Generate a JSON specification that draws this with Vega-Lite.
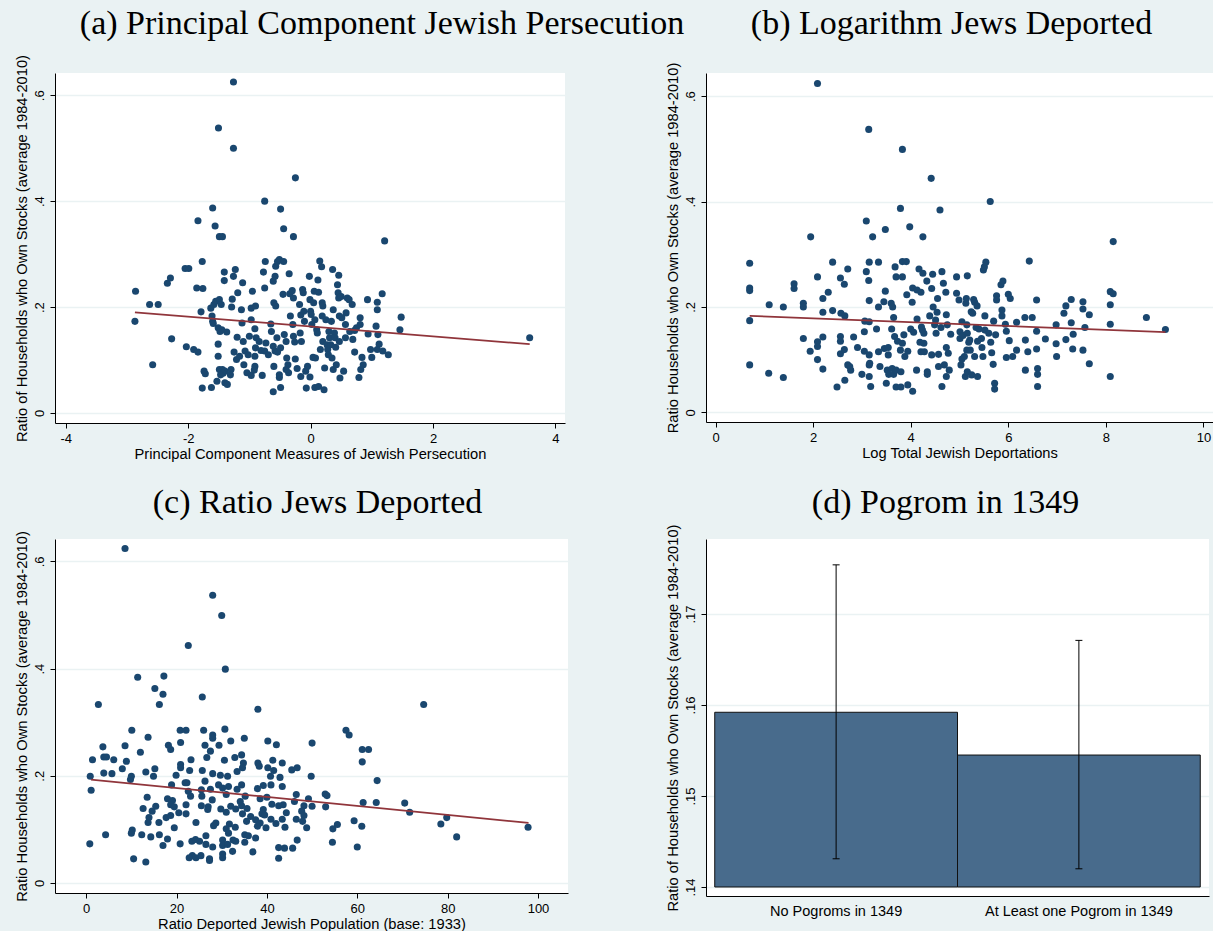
{
  "$schema": "https://vega.github.io/schema/vega-lite/v6.json",
  "background": "#eaf2f3",
  "padding": {"left": 14, "top": 6, "right": 0, "bottom": 0},
  "bounds": "flush",
  "columns": 2,
  "spacing": {"row": 116, "column": 138},
  "datasets": {
    "pca": [
      {"x":-1.26,"y":0.625},{"x":-1.505,"y":0.538},{"x":-1.26,"y":0.5},{"x":-0.248,"y":0.444},{"x":-0.75,"y":0.4},{"x":-0.49,"y":0.385},{"x":-1.6,"y":0.387},{"x":-1.84,"y":0.363},{"x":-1.56,"y":0.353},{"x":-0.44,"y":0.348},{"x":-1.49,"y":0.333},{"x":-1.44,"y":0.333},{"x":-0.28,"y":0.333},{"x":1.21,"y":0.325},
      {"x":-2.86,"y":0.23},{"x":-2.87,"y":0.173},{"x":-2.63,"y":0.205},{"x":-2.49,"y":0.205},{"x":-2.58,"y":0.091},{"x":-2.34,"y":0.245},{"x":-2.29,"y":0.255},{"x":-2.27,"y":0.14},{"x":-2.05,"y":0.273},{"x":-1.99,"y":0.273},{"x":-2.03,"y":0.125},{"x":-1.91,"y":0.12},{"x":-1.84,"y":0.115},{"x":-1.86,"y":0.236},{"x":-1.76,"y":0.235},{"x":-1.77,"y":0.286},{"x":-1.79,"y":0.191},{"x":-1.74,"y":0.079},{"x":-1.72,"y":0.074},{"x":-1.77,"y":0.047},
      {"x":-1.63,"y":0.198},{"x":-1.58,"y":0.205},{"x":-1.61,"y":0.183},{"x":-1.6,"y":0.173},{"x":-1.59,"y":0.169},{"x":-1.62,"y":0.048},{"x":-1.55,"y":0.211},{"x":-1.49,"y":0.214},{"x":-1.46,"y":0.205},{"x":-1.41,"y":0.266},{"x":-1.41,"y":0.25},{"x":-1.51,"y":0.161},{"x":-1.48,"y":0.154},{"x":-1.45,"y":0.157},{"x":-1.51,"y":0.13},{"x":-1.51,"y":0.107},{"x":-1.49,"y":0.082},{"x":-1.44,"y":0.082},{"x":-1.4,"y":0.079},{"x":-1.43,"y":0.075},{"x":-1.47,"y":0.072},{"x":-1.53,"y":0.06},{"x":-1.4,"y":0.057},{"x":-1.36,"y":0.054},{"x":-1.37,"y":0.153},{"x":-1.3,"y":0.082},{"x":-1.31,"y":0.072},
      {"x":-1.28,"y":0.215},{"x":-1.29,"y":0.2},{"x":-1.26,"y":0.258},{"x":-1.23,"y":0.271},{"x":-1.25,"y":0.115},{"x":-1.2,"y":0.143},{"x":-1.19,"y":0.227},{"x":-1.21,"y":0.101},{"x":-1.16,"y":0.107},{"x":-1.11,"y":0.246},{"x":-1.13,"y":0.195},{"x":-1.12,"y":0.17},{"x":-1.1,"y":0.135},{"x":-1.07,"y":0.117},{"x":-1.09,"y":0.091},{"x":-1.02,"y":0.11},{"x":-1.04,"y":0.076},{"x":-0.97,"y":0.071},{"x":-1.0,"y":0.145},{"x":-0.97,"y":0.176},{"x":-0.95,"y":0.23},{"x":-0.97,"y":0.198},{"x":-0.9,"y":0.202},{"x":-0.91,"y":0.159},{"x":-0.89,"y":0.142},{"x":-0.9,"y":0.123},{"x":-0.91,"y":0.107},{"x":-0.91,"y":0.088},{"x":-0.92,"y":0.081},{"x":-0.84,"y":0.135},{"x":-0.81,"y":0.118},{"x":-0.79,"y":0.071},
      {"x":-0.77,"y":0.266},{"x":-0.75,"y":0.236},{"x":-0.74,"y":0.286},{"x":-0.73,"y":0.132},{"x":-0.75,"y":0.117},{"x":-0.69,"y":0.11},{"x":-0.65,"y":0.168},{"x":-0.64,"y":0.154},{"x":-0.61,"y":0.249},{"x":-0.58,"y":0.258},{"x":-0.57,"y":0.277},{"x":-0.54,"y":0.286},{"x":-0.51,"y":0.29},{"x":-0.44,"y":0.286},{"x":-0.6,"y":0.208},{"x":-0.57,"y":0.202},{"x":-0.61,"y":0.126},{"x":-0.58,"y":0.117},{"x":-0.54,"y":0.115},{"x":-0.6,"y":0.088},{"x":-0.61,"y":0.04},{"x":-0.51,"y":0.067},{"x":-0.51,"y":0.072},{"x":-0.49,"y":0.048},{"x":-0.55,"y":0.142},{"x":-0.49,"y":0.123},{"x":-0.45,"y":0.224},{"x":-0.43,"y":0.148},{"x":-0.4,"y":0.135},{"x":-0.39,"y":0.104},{"x":-0.37,"y":0.091},{"x":-0.36,"y":0.076},{"x":-0.4,"y":0.082},
      {"x":-0.35,"y":0.263},{"x":-0.34,"y":0.225},{"x":-0.33,"y":0.183},{"x":-0.3,"y":0.231},{"x":-0.28,"y":0.217},{"x":-0.29,"y":0.167},{"x":-0.28,"y":0.145},{"x":-0.26,"y":0.134},{"x":-0.25,"y":0.102},{"x":-0.22,"y":0.084},{"x":-0.18,"y":0.205},{"x":-0.16,"y":0.185},{"x":-0.17,"y":0.151},{"x":-0.15,"y":0.135},{"x":-0.16,"y":0.069},{"x":-0.13,"y":0.233},{"x":-0.12,"y":0.227},{"x":-0.11,"y":0.192},{"x":-0.1,"y":0.173},{"x":-0.08,"y":0.079},{"x":-0.07,"y":0.047},{"x":-0.05,"y":0.088},{"x":-0.02,"y":0.258},{"x":-0.01,"y":0.214},{"x":0.0,"y":0.192},{"x":0.01,"y":0.186},{"x":0.02,"y":0.167},{"x":0.04,"y":0.105},{"x":-0.01,"y":0.068},
      {"x":0.05,"y":0.208},{"x":0.06,"y":0.23},{"x":0.07,"y":0.176},{"x":0.07,"y":0.048},{"x":0.08,"y":0.104},{"x":0.1,"y":0.157},{"x":0.11,"y":0.151},{"x":0.12,"y":0.251},{"x":0.13,"y":0.05},{"x":0.13,"y":0.228},{"x":0.15,"y":0.287},{"x":0.16,"y":0.12},{"x":0.18,"y":0.276},{"x":0.19,"y":0.208},{"x":0.2,"y":0.202},{"x":0.19,"y":0.183},{"x":0.2,"y":0.135},{"x":0.22,"y":0.044},{"x":0.23,"y":0.085},{"x":0.25,"y":0.176},{"x":0.27,"y":0.129},{"x":0.28,"y":0.12},{"x":0.29,"y":0.11},{"x":0.3,"y":0.154},{"x":0.31,"y":0.142},{"x":0.33,"y":0.129},{"x":0.34,"y":0.173},{"x":0.35,"y":0.104},{"x":0.36,"y":0.271},{"x":0.37,"y":0.195},{"x":0.39,"y":0.151},{"x":0.4,"y":0.142},{"x":0.41,"y":0.124},{"x":0.37,"y":0.082},{"x":0.42,"y":0.091},
      {"x":0.44,"y":0.242},{"x":0.45,"y":0.227},{"x":0.46,"y":0.26},{"x":0.46,"y":0.217},{"x":0.47,"y":0.183},{"x":0.47,"y":0.135},{"x":0.48,"y":0.066},{"x":0.5,"y":0.22},{"x":0.51,"y":0.18},{"x":0.54,"y":0.079},{"x":0.57,"y":0.167},{"x":0.58,"y":0.189},{"x":0.57,"y":0.142},{"x":0.6,"y":0.217},{"x":0.63,"y":0.214},{"x":0.64,"y":0.154},{"x":0.68,"y":0.205},{"x":0.69,"y":0.139},{"x":0.72,"y":0.156},{"x":0.72,"y":0.115},{"x":0.75,"y":0.161},{"x":0.79,"y":0.067},{"x":0.81,"y":0.18},{"x":0.81,"y":0.167},{"x":0.82,"y":0.082},{"x":0.84,"y":0.105},{"x":0.86,"y":0.091},{"x":0.93,"y":0.214},{"x":0.94,"y":0.149},{"x":0.98,"y":0.12},{"x":1.0,"y":0.105},{"x":1.07,"y":0.164},{"x":1.09,"y":0.195},{"x":1.09,"y":0.209},{"x":1.1,"y":0.148},{"x":1.12,"y":0.13},{"x":1.09,"y":0.12},{"x":1.17,"y":0.225},{"x":1.18,"y":0.117},{"x":1.27,"y":0.11},{"x":1.46,"y":0.157},{"x":1.48,"y":0.181},{"x":3.58,"y":0.142}
    ],
    "fit_a": [{"x":-2.87,"y":0.19},{"x":3.58,"y":0.13}],
    "logdep": [
      {"x":0.7,"y":0.283},{"x":0.7,"y":0.236},{"x":0.7,"y":0.231},{"x":0.7,"y":0.174},{"x":0.7,"y":0.09},{"x":1.1,"y":0.204},{"x":1.09,"y":0.074},{"x":1.39,"y":0.2},{"x":1.39,"y":0.066},{"x":1.61,"y":0.244},{"x":1.61,"y":0.235},{"x":1.8,"y":0.207},{"x":1.8,"y":0.2},{"x":1.8,"y":0.14},{"x":1.95,"y":0.333},{"x":1.94,"y":0.116},{"x":2.09,"y":0.624},{"x":2.09,"y":0.257},{"x":2.09,"y":0.134},{"x":2.09,"y":0.125},{"x":2.09,"y":0.1},{"x":2.2,"y":0.216},{"x":2.2,"y":0.19},{"x":2.2,"y":0.143},{"x":2.2,"y":0.082},{"x":2.31,"y":0.228},{"x":2.4,"y":0.285},{"x":2.4,"y":0.193},{"x":2.49,"y":0.048},{"x":2.56,"y":0.255},{"x":2.57,"y":0.188},{"x":2.56,"y":0.144},{"x":2.56,"y":0.135},{"x":2.56,"y":0.111},{"x":2.64,"y":0.243},{"x":2.65,"y":0.183},{"x":2.64,"y":0.119},{"x":2.65,"y":0.061},{"x":2.71,"y":0.272},{"x":2.71,"y":0.09},{"x":2.77,"y":0.08},{"x":2.75,"y":0.087},{"x":2.83,"y":0.143},{"x":2.91,"y":0.123},{"x":3.0,"y":0.072},
      {"x":3.06,"y":0.173},{"x":3.05,"y":0.153},{"x":3.05,"y":0.116},{"x":3.09,"y":0.363},{"x":3.09,"y":0.267},{"x":3.14,"y":0.537},{"x":3.15,"y":0.285},{"x":3.14,"y":0.25},{"x":3.15,"y":0.212},{"x":3.15,"y":0.172},{"x":3.15,"y":0.109},{"x":3.15,"y":0.09},{"x":3.16,"y":0.093},{"x":3.15,"y":0.068},{"x":3.18,"y":0.049},{"x":3.22,"y":0.333},{"x":3.3,"y":0.158},{"x":3.34,"y":0.285},{"x":3.34,"y":0.2},{"x":3.34,"y":0.115},{"x":3.37,"y":0.087},{"x":3.45,"y":0.21},{"x":3.48,"y":0.347},{"x":3.48,"y":0.23},{"x":3.46,"y":0.121},{"x":3.5,"y":0.055},{"x":3.54,"y":0.123},{"x":3.54,"y":0.109},{"x":3.52,"y":0.08},{"x":3.55,"y":0.072},{"x":3.6,"y":0.207},{"x":3.63,"y":0.2},{"x":3.61,"y":0.158},{"x":3.62,"y":0.083},{"x":3.65,"y":0.18},{"x":3.67,"y":0.144},{"x":3.68,"y":0.276},{"x":3.7,"y":0.257},{"x":3.7,"y":0.048},{"x":3.73,"y":0.135},{"x":3.65,"y":0.072},{"x":3.7,"y":0.08},
      {"x":3.79,"y":0.387},{"x":3.79,"y":0.118},{"x":3.8,"y":0.048},{"x":3.83,"y":0.499},{"x":3.83,"y":0.286},{"x":3.83,"y":0.257},{"x":3.83,"y":0.131},{"x":3.8,"y":0.077},{"x":3.86,"y":0.147},{"x":3.88,"y":0.106},{"x":3.91,"y":0.286},{"x":3.92,"y":0.223},{"x":3.94,"y":0.116},{"x":3.94,"y":0.052},{"x":3.98,"y":0.352},{"x":4.0,"y":0.158},{"x":4.03,"y":0.209},{"x":4.04,"y":0.236},{"x":4.06,"y":0.152},{"x":4.04,"y":0.04},{"x":4.12,"y":0.08},{"x":4.13,"y":0.232},{"x":4.13,"y":0.177},{"x":4.17,"y":0.272},{"x":4.19,"y":0.133},{"x":4.21,"y":0.228},{"x":4.21,"y":0.115},{"x":4.22,"y":0.162},{"x":4.24,"y":0.156},{"x":4.25,"y":0.333},{"x":4.25,"y":0.264},{"x":4.27,"y":0.15},{"x":4.27,"y":0.131},{"x":4.28,"y":0.115},{"x":4.33,"y":0.249},{"x":4.34,"y":0.077},{"x":4.34,"y":0.072},{"x":4.39,"y":0.183},{"x":4.42,"y":0.444},{"x":4.43,"y":0.235},{"x":4.43,"y":0.109},{"x":4.45,"y":0.262},{"x":4.46,"y":0.2},{"x":4.49,"y":0.166},{"x":4.51,"y":0.175},{"x":4.52,"y":0.15},{"x":4.54,"y":0.19},{"x":4.55,"y":0.216},{"x":4.57,"y":0.11},{"x":4.57,"y":0.087},
      {"x":4.6,"y":0.384},{"x":4.62,"y":0.161},{"x":4.64,"y":0.267},{"x":4.64,"y":0.049},{"x":4.67,"y":0.245},{"x":4.69,"y":0.09},{"x":4.72,"y":0.228},{"x":4.73,"y":0.185},{"x":4.73,"y":0.123},{"x":4.75,"y":0.166},{"x":4.73,"y":0.068},{"x":4.77,"y":0.112},{"x":4.79,"y":0.08},{"x":4.82,"y":0.148},{"x":4.94,"y":0.257},{"x":4.94,"y":0.226},{"x":4.99,"y":0.213},{"x":5.01,"y":0.153},{"x":5.01,"y":0.14},{"x":5.03,"y":0.09},{"x":5.05,"y":0.172},{"x":5.05,"y":0.101},{"x":5.07,"y":0.146},{"x":5.1,"y":0.106},{"x":5.12,"y":0.068},{"x":5.13,"y":0.207},{"x":5.14,"y":0.216},{"x":5.15,"y":0.118},{"x":5.16,"y":0.259},{"x":5.15,"y":0.166},{"x":5.16,"y":0.15},{"x":5.16,"y":0.077},{"x":5.19,"y":0.133},{"x":5.21,"y":0.137},{"x":5.22,"y":0.118},{"x":5.24,"y":0.191},{"x":5.25,"y":0.071},{"x":5.27,"y":0.188},{"x":5.29,"y":0.214},{"x":5.31,"y":0.209},{"x":5.31,"y":0.106},{"x":5.34,"y":0.161},{"x":5.36,"y":0.202},{"x":5.37,"y":0.135},{"x":5.37,"y":0.068},{"x":5.4,"y":0.158},{"x":5.45,"y":0.14},{"x":5.46,"y":0.123},{"x":5.48,"y":0.106},
      {"x":5.49,"y":0.27},{"x":5.51,"y":0.276},{"x":5.54,"y":0.285},{"x":5.52,"y":0.183},{"x":5.52,"y":0.156},{"x":5.6,"y":0.15},{"x":5.63,"y":0.4},{"x":5.64,"y":0.133},{"x":5.66,"y":0.113},{"x":5.69,"y":0.091},{"x":5.7,"y":0.173},{"x":5.72,"y":0.055},{"x":5.72,"y":0.044},{"x":5.74,"y":0.147},{"x":5.76,"y":0.221},{"x":5.76,"y":0.213},{"x":5.85,"y":0.242},{"x":5.87,"y":0.194},{"x":5.87,"y":0.183},{"x":5.89,"y":0.249},{"x":5.94,"y":0.167},{"x":5.96,"y":0.154},{"x":5.96,"y":0.104},{"x":6.0,"y":0.224},{"x":6.04,"y":0.216},{"x":6.02,"y":0.136},{"x":6.09,"y":0.106},{"x":6.17,"y":0.118},{"x":6.17,"y":0.171},{"x":6.34,"y":0.18},{"x":6.35,"y":0.137},{"x":6.35,"y":0.08},{"x":6.4,"y":0.115},{"x":6.43,"y":0.287},{"x":6.49,"y":0.18},{"x":6.58,"y":0.213},{"x":6.58,"y":0.154},{"x":6.58,"y":0.12},{"x":6.6,"y":0.083},{"x":6.6,"y":0.072},{"x":6.6,"y":0.049},{"x":6.76,"y":0.139},
      {"x":6.98,"y":0.166},{"x":6.98,"y":0.13},{"x":6.99,"y":0.106},{"x":7.14,"y":0.188},{"x":7.18,"y":0.202},{"x":7.18,"y":0.138},{"x":7.29,"y":0.214},{"x":7.29,"y":0.17},{"x":7.33,"y":0.148},{"x":7.32,"y":0.12},{"x":7.53,"y":0.21},{"x":7.53,"y":0.196},{"x":7.53,"y":0.118},{"x":7.57,"y":0.161},{"x":7.66,"y":0.185},{"x":7.66,"y":0.092},{"x":8.09,"y":0.229},{"x":8.15,"y":0.225},{"x":8.09,"y":0.204},{"x":8.09,"y":0.167},{"x":8.09,"y":0.068},{"x":8.15,"y":0.324},{"x":8.83,"y":0.18},{"x":9.22,"y":0.157}
    ],
    "fit_b": [{"x":0.7,"y":0.183},{"x":9.22,"y":0.152}],
    "ratio": [
      {"x":8.6,"y":0.624},{"x":28.0,"y":0.537},{"x":30.0,"y":0.499},{"x":22.6,"y":0.443},{"x":30.8,"y":0.399},{"x":11.4,"y":0.384},{"x":17.2,"y":0.386},{"x":15.2,"y":0.363},{"x":17.0,"y":0.352},{"x":25.7,"y":0.347},{"x":2.7,"y":0.333},{"x":16.2,"y":0.333},{"x":74.7,"y":0.333},{"x":38.0,"y":0.324},
      {"x":10.1,"y":0.285},{"x":20.8,"y":0.285},{"x":22.1,"y":0.285},{"x":26.0,"y":0.285},{"x":30.7,"y":0.287},{"x":57.5,"y":0.285},{"x":58.2,"y":0.276},{"x":28.0,"y":0.276},{"x":28.0,"y":0.27},{"x":35.0,"y":0.27},{"x":13.7,"y":0.272},{"x":20.9,"y":0.262},{"x":32.0,"y":0.265},{"x":40.2,"y":0.265},{"x":50.0,"y":0.261},{"x":3.7,"y":0.254},{"x":8.6,"y":0.256},{"x":18.2,"y":0.257},{"x":18.7,"y":0.249},{"x":26.3,"y":0.257},{"x":29.4,"y":0.257},{"x":42.1,"y":0.258},{"x":61.1,"y":0.249},{"x":62.5,"y":0.249},{"x":12.0,"y":0.244},{"x":27.5,"y":0.246},{"x":34.4,"y":0.239},{"x":32.9,"y":0.234},{"x":26.7,"y":0.234},
      {"x":1.4,"y":0.23},{"x":3.9,"y":0.235},{"x":4.5,"y":0.235},{"x":6.1,"y":0.23},{"x":8.9,"y":0.227},{"x":23.2,"y":0.23},{"x":30.6,"y":0.229},{"x":41.3,"y":0.229},{"x":43.4,"y":0.224},{"x":38.0,"y":0.224},{"x":38.3,"y":0.218},{"x":61.1,"y":0.226},{"x":20.9,"y":0.221},{"x":20.9,"y":0.215},{"x":34.8,"y":0.224},{"x":34.6,"y":0.215},{"x":8.0,"y":0.213},{"x":15.2,"y":0.213},{"x":40.2,"y":0.215},{"x":46.7,"y":0.215},{"x":45.5,"y":0.211},{"x":25.7,"y":0.21},{"x":22.9,"y":0.21},{"x":33.4,"y":0.208},{"x":41.5,"y":0.21},{"x":13.2,"y":0.207},{"x":3.9,"y":0.205},{"x":5.7,"y":0.204},
      {"x":0.9,"y":0.199},{"x":10.0,"y":0.199},{"x":9.8,"y":0.193},{"x":14.9,"y":0.199},{"x":19.9,"y":0.201},{"x":28.0,"y":0.204},{"x":29.7,"y":0.201},{"x":31.3,"y":0.199},{"x":40.8,"y":0.199},{"x":42.9,"y":0.197},{"x":49.8,"y":0.199},{"x":64.4,"y":0.191},{"x":18.9,"y":0.183},{"x":21.9,"y":0.187},{"x":22.3,"y":0.187},{"x":26.3,"y":0.19},{"x":29.3,"y":0.183},{"x":31.5,"y":0.18},{"x":34.4,"y":0.183},{"x":39.2,"y":0.182},{"x":43.4,"y":0.18},{"x":40.9,"y":0.183},{"x":1.1,"y":0.173},{"x":22.6,"y":0.171},{"x":25.5,"y":0.174},{"x":27.5,"y":0.175},{"x":30.2,"y":0.177},{"x":33.4,"y":0.175},{"x":37.9,"y":0.176},
      {"x":23.1,"y":0.162},{"x":25.6,"y":0.162},{"x":31.0,"y":0.165},{"x":35.2,"y":0.162},{"x":40.0,"y":0.16},{"x":46.5,"y":0.165},{"x":52.9,"y":0.166},{"x":53.3,"y":0.163},{"x":13.5,"y":0.16},{"x":18.0,"y":0.157},{"x":49.2,"y":0.157},{"x":19.1,"y":0.154},{"x":27.9,"y":0.155},{"x":34.1,"y":0.152},{"x":38.5,"y":0.157},{"x":41.1,"y":0.147},{"x":42.6,"y":0.144},{"x":46.1,"y":0.152},{"x":61.3,"y":0.15},{"x":64.2,"y":0.15},{"x":70.5,"y":0.149},{"x":18.7,"y":0.146},{"x":19.5,"y":0.142},{"x":22.1,"y":0.146},{"x":25.5,"y":0.144},{"x":27.0,"y":0.142},{"x":32.0,"y":0.143},{"x":34.4,"y":0.144},{"x":43.6,"y":0.146},{"x":48.2,"y":0.144},{"x":50.0,"y":0.143},{"x":53.0,"y":0.142},
      {"x":12.6,"y":0.139},{"x":15.4,"y":0.143},{"x":26.9,"y":0.137},{"x":29.8,"y":0.138},{"x":33.1,"y":0.138},{"x":35.6,"y":0.139},{"x":39.2,"y":0.137},{"x":14.6,"y":0.134},{"x":31.0,"y":0.132},{"x":20.5,"y":0.131},{"x":22.1,"y":0.129},{"x":44.3,"y":0.131},{"x":47.7,"y":0.134},{"x":71.6,"y":0.132},{"x":34.6,"y":0.129},{"x":38.9,"y":0.129},{"x":13.9,"y":0.122},{"x":17.7,"y":0.122},{"x":18.7,"y":0.126},{"x":36.4,"y":0.124},{"x":39.5,"y":0.127},{"x":48.2,"y":0.126},{"x":79.8,"y":0.122},{"x":37.5,"y":0.118},{"x":40.9,"y":0.119},{"x":43.4,"y":0.119},{"x":46.5,"y":0.119},
      {"x":13.7,"y":0.113},{"x":16.1,"y":0.113},{"x":24.3,"y":0.113},{"x":28.7,"y":0.112},{"x":31.7,"y":0.11},{"x":35.5,"y":0.115},{"x":38.5,"y":0.112},{"x":42.0,"y":0.111},{"x":47.9,"y":0.115},{"x":78.5,"y":0.11},{"x":55.6,"y":0.109},{"x":59.3,"y":0.116},{"x":54.6,"y":0.101},{"x":61.0,"y":0.106},{"x":37.9,"y":0.106},{"x":39.8,"y":0.103},{"x":31.0,"y":0.101},{"x":28.2,"y":0.107},{"x":33.0,"y":0.104},{"x":44.0,"y":0.104},{"x":48.8,"y":0.103},{"x":97.8,"y":0.104},{"x":19.5,"y":0.103},{"x":10.2,"y":0.099},{"x":10.0,"y":0.093},
      {"x":4.3,"y":0.09},{"x":12.3,"y":0.09},{"x":16.2,"y":0.09},{"x":14.3,"y":0.086},{"x":35.1,"y":0.09},{"x":35.9,"y":0.088},{"x":31.5,"y":0.093},{"x":26.5,"y":0.088},{"x":37.5,"y":0.084},{"x":82.0,"y":0.086},{"x":18.0,"y":0.082},{"x":23.4,"y":0.078},{"x":24.2,"y":0.081},{"x":25.1,"y":0.078},{"x":30.2,"y":0.08},{"x":32.5,"y":0.08},{"x":33.1,"y":0.078},{"x":35.1,"y":0.076},{"x":46.7,"y":0.08},{"x":54.5,"y":0.076},{"x":0.8,"y":0.073},{"x":17.0,"y":0.07},{"x":20.8,"y":0.073},{"x":26.5,"y":0.072},{"x":28.0,"y":0.067},{"x":30.2,"y":0.07},{"x":31.3,"y":0.072},{"x":42.6,"y":0.066},{"x":43.9,"y":0.065},{"x":45.7,"y":0.065},{"x":60.0,"y":0.067},
      {"x":32.4,"y":0.059},{"x":36.9,"y":0.058},{"x":23.5,"y":0.051},{"x":22.8,"y":0.047},{"x":24.3,"y":0.047},{"x":25.4,"y":0.051},{"x":27.3,"y":0.045},{"x":27.3,"y":0.042},{"x":30.2,"y":0.054},{"x":30.2,"y":0.047},{"x":42.6,"y":0.046},{"x":10.5,"y":0.045},{"x":13.2,"y":0.039}
    ],
    "fit_c": [{"x":1.07,"y":0.193},{"x":97.9,"y":0.112}],
    "pogrom": [
      {"group":"No Pogroms in 1349","mean":0.1592,"lo":0.1431,"hi":0.1754},
      {"group":"At Least one Pogrom in 1349","mean":0.1545,"lo":0.142,"hi":0.1671}
    ]
  },
  "concat": [
    {
      "title": {"text": "(a) Principal Component Jewish Persecution", "dx": 72, "offset": 13.8},
      "width": 510,
      "height": 350,
      "layer": [
        {
          "data": {"name": "pca"},
          "mark": {"type": "circle", "size": 50, "opacity": 1, "color": "#1a476f"},
          "encoding": {
            "x": {"field": "x", "type": "quantitative", "scale": {"domain": [-4.176, 4.157], "nice": false, "zero": false}, "axis": {"values": [-4, -2, 0, 2, 4], "labelExpr": "'' + datum.value", "title": "Principal Component Measures of Jewish Persecution"}},
            "y": {"field": "y", "type": "quantitative", "scale": {"domain": [-0.0189, 0.642], "nice": false, "zero": false}, "axis": {"values": [0, 0.2, 0.4, 0.6], "format": ".1f", "title": "Ratio of Households who Own Stocks (average 1984-2010)"}}
          }
        },
        {
          "data": {"name": "fit_a"},
          "mark": {"type": "line", "color": "#90353b", "strokeWidth": 1.8},
          "encoding": {"x": {"field": "x", "type": "quantitative"}, "y": {"field": "y", "type": "quantitative"}}
        }
      ]
    },
    {
      "title": {"text": "(b) Logarithm Jews Deported", "dx": -8, "offset": 21.4},
      "width": 507,
      "height": 349,
      "layer": [
        {
          "data": {"name": "logdep"},
          "mark": {"type": "circle", "size": 50, "opacity": 1, "color": "#1a476f"},
          "encoding": {
            "x": {"field": "x", "type": "quantitative", "scale": {"domain": [-0.195, 10.195], "nice": false, "zero": false}, "axis": {"values": [0, 2, 4, 6, 8, 10], "labelExpr": "'' + datum.value", "title": "Log Total Jewish Deportations"}},
            "y": {"field": "y", "type": "quantitative", "scale": {"domain": [-0.0184, 0.644], "nice": false, "zero": false}, "axis": {"values": [0, 0.2, 0.4, 0.6], "format": ".1f", "title": "Ratio Households who Own Stocks (average 1984-2010)"}}
          }
        },
        {
          "data": {"name": "fit_b"},
          "mark": {"type": "line", "color": "#90353b", "strokeWidth": 1.8},
          "encoding": {"x": {"field": "x", "type": "quantitative"}, "y": {"field": "y", "type": "quantitative"}}
        }
      ]
    },
    {
      "title": {"text": "(c) Ratio Jews Deported", "dx": 6, "offset": 10.5},
      "width": 513,
      "height": 354,
      "layer": [
        {
          "data": {"name": "ratio"},
          "mark": {"type": "circle", "size": 50, "opacity": 1, "color": "#1a476f"},
          "encoding": {
            "x": {"field": "x", "type": "quantitative", "scale": {"domain": [-6.9, 106.64], "nice": false, "zero": false}, "axis": {"values": [0, 20, 40, 60, 80, 100], "labelExpr": "'' + datum.value", "title": "Ratio Deported Jewish Population (base: 1933)"}},
            "y": {"field": "y", "type": "quantitative", "scale": {"domain": [-0.0187, 0.6418], "nice": false, "zero": false}, "axis": {"values": [0, 0.2, 0.4, 0.6], "format": ".1f", "title": "Ratio Households who Own Stocks (average 1984-2010)"}}
          }
        },
        {
          "data": {"name": "fit_c"},
          "mark": {"type": "line", "color": "#90353b", "strokeWidth": 1.8},
          "encoding": {"x": {"field": "x", "type": "quantitative"}, "y": {"field": "y", "type": "quantitative"}}
        }
      ]
    },
    {
      "title": {"text": "(d) Pogrom in 1349", "dx": -12, "offset": 3.8},
      "width": 503,
      "height": 357,
      "data": {"name": "pogrom"},
      "encoding": {
        "x": {"field": "group", "type": "nominal", "sort": null, "scale": {"paddingInner": 0, "paddingOuter": 0.036}, "axis": {"title": null, "labelAngle": 0, "ticks": false, "labelPadding": 8, "labelFontSize": 14.5, "labelLimit": 400}}
      },
      "layer": [
        {
          "mark": {"type": "bar", "color": "#486b8c", "stroke": "#111111", "strokeWidth": 1},
          "encoding": {
            "y": {"field": "mean", "type": "quantitative", "scale": {"domain": [0.13901, 0.17824], "nice": false, "zero": false}, "axis": {"values": [0.14, 0.15, 0.16, 0.17], "format": ".2f", "title": "Ratio of Households who Own Stocks (average 1984-2010)"}},
            "y2": {"datum": 0.14}
          }
        },
        {
          "mark": {"type": "rule", "color": "#000000", "strokeWidth": 1},
          "encoding": {"y": {"field": "lo", "type": "quantitative"}, "y2": {"field": "hi"}}
        },
        {
          "mark": {"type": "tick", "color": "#000000", "size": 7, "thickness": 1, "opacity": 1},
          "encoding": {"y": {"field": "lo", "type": "quantitative"}}
        },
        {
          "mark": {"type": "tick", "color": "#000000", "size": 7, "thickness": 1, "opacity": 1},
          "encoding": {"y": {"field": "hi", "type": "quantitative"}}
        }
      ]
    }
  ],
  "config": {
    "view": {"stroke": null, "fill": "white"},
    "font": "Liberation Sans",
    "title": {"font": "Liberation Serif", "fontSize": 34, "fontWeight": "normal", "color": "#000000", "anchor": "middle", "baseline": "alphabetic"},
    "axis": {
      "domainColor": "#000000",
      "tickColor": "#000000",
      "labelColor": "#000000",
      "titleColor": "#000000",
      "labelFont": "Liberation Sans",
      "titleFont": "Liberation Sans",
      "labelFontSize": 13,
      "titleFontSize": 14.7,
      "titleFontWeight": "normal",
      "tickSize": 5,
      "grid": false,
      "labelFlush": false,
      "labelOverlap": false
    },
    "axisY": {
      "grid": true,
      "gridColor": "#eaf2f3",
      "gridWidth": 1.3,
      "labelAngle": -90,
      "labelAlign": "center",
      "labelBaseline": "bottom",
      "labelPadding": 4,
      "titlePadding": 4,
      "labelExpr": "datum.value == 0 ? '0' : replace(datum.label, '0.', '.')"
    },
    "axisX": {"labelPadding": 4, "titlePadding": 1}
  }
}
